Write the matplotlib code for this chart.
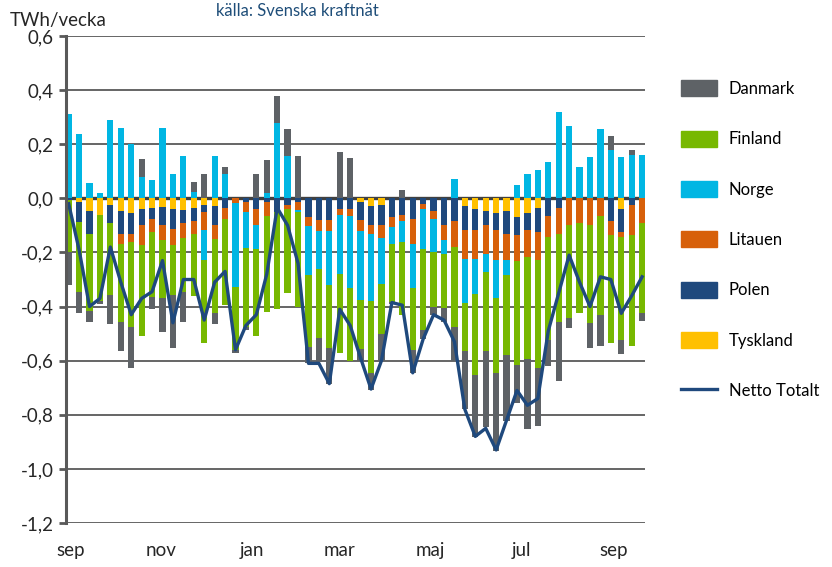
import numpy as np
import pandas as pd
import matplotlib
matplotlib.use("Agg")
import matplotlib.pyplot as plt
import matplotlib.dates as mdates
from matplotlib.patches import Patch
from matplotlib.lines import Line2D

plt.rcParams['font.family'] = ['Lato', 'DejaVu Sans']

# weekly data, TWh/vecka (positive = import, negative = export)
weeks = pd.date_range('2017-08-31', periods=56, freq='7D')

tyskland = [0, -0.013, -0.048, -0.06, -0.023, -0.048, -0.053, -0.038, -0.036, -0.032,
            -0.04, -0.044, -0.036, -0.026, -0.028, 0, 0, 0, 0, 0,
            0, 0, 0, 0, 0, 0, 0, 0, -0.015, -0.03,
            -0.026, 0, 0, 0, 0, 0, 0, 0, -0.028, -0.038,
            -0.048, -0.053, -0.048, -0.069, -0.056, -0.036, 0, 0, 0, 0,
            0, 0, 0, -0.038, 0, 0]
polen = [-0.005, -0.074, -0.082, 0, -0.07, -0.082, -0.077, -0.059, -0.041, -0.068,
         -0.072, -0.049, -0.049, -0.024, -0.072, -0.036, 0, -0.014, -0.038, -0.013,
         -0.05, -0.023, -0.013, -0.07, -0.08, -0.08, -0.039, -0.04, -0.065, -0.07,
         -0.074, -0.069, -0.063, -0.077, -0.02, -0.048, -0.097, -0.085, -0.09, -0.08,
         -0.049, -0.065, -0.082, -0.067, -0.062, -0.088, -0.065, -0.036, 0, 0,
         0, 0, -0.085, -0.086, -0.023, 0]
litauen = [0, 0, 0, 0, 0, -0.037, -0.033, -0.076, -0.047, -0.055,
           -0.059, -0.053, -0.045, -0.068, -0.051, -0.039, -0.016, -0.035, -0.062, -0.052,
           0, -0.017, -0.031, -0.034, -0.04, -0.04, -0.021, -0.027, -0.039, -0.03,
           -0.047, -0.037, -0.022, -0.09, -0.018, -0.029, -0.058, -0.094, -0.107, -0.107,
           -0.11, -0.11, -0.098, -0.096, -0.098, -0.104, -0.077, -0.094, -0.1, -0.09,
           -0.097, -0.065, -0.051, -0.018, -0.113, -0.09]
norge = [0.31, 0.238, 0.056, 0.021, 0.29, 0.26, 0.20, 0.079, 0.067, 0.26,
         0.091, 0.155, 0.023, -0.11, 0.155, 0.091, -0.31, -0.135, -0.088, 0.021,
         0.279, 0.156, -0.006, -0.181, -0.141, -0.199, -0.219, -0.265, -0.256, -0.25,
         -0.169, -0.062, -0.076, -0.166, -0.15, -0.123, -0.052, 0.072, -0.163, -0.13,
         -0.064, -0.141, -0.055, 0.048, 0.091, 0.103, 0.134, 0.32, 0.266, 0.115,
         0.152, 0.256, 0.177, 0.152, 0.161, 0.161]
finland = [-0.195, -0.258, -0.288, -0.32, -0.264, -0.291, -0.311, -0.337, -0.239, -0.215,
           -0.186, -0.199, -0.23, -0.307, -0.274, -0.319, -0.234, -0.291, -0.322, -0.355,
           -0.36, -0.31, -0.35, -0.265, -0.257, -0.236, -0.293, -0.27, -0.183, -0.265,
           -0.184, -0.216, -0.269, -0.227, -0.298, -0.2, -0.199, -0.295, -0.178, -0.297,
           -0.295, -0.276, -0.297, -0.383, -0.377, -0.399, -0.381, -0.328, -0.343, -0.335,
           -0.364, -0.365, -0.399, -0.381, -0.411, -0.335]
danmark = [-0.12, -0.08, -0.04, -0.01, -0.108, -0.108, -0.153, 0.065, -0.046, -0.124,
           -0.196, -0.113, 0.037, 0.091, -0.04, 0.024, -0.01, -0.012, 0.091, 0.119,
           0.10, 0.10, 0.158, -0.058, -0.087, -0.13, 0.171, 0.148, -0.043, -0.065,
           -0.10, -0.006, 0.029, -0.085, -0.035, -0.03, -0.05, -0.126, -0.214, -0.23,
           -0.28, -0.289, -0.243, -0.14, -0.261, -0.215, -0.097, -0.216, -0.037, 0,
           -0.092, -0.117, 0.055, -0.052, 0.016, -0.03]
netto = [-0.02, -0.19, -0.40, -0.37, -0.18, -0.31, -0.43, -0.37, -0.345, -0.23,
         -0.46, -0.30, -0.30, -0.45, -0.31, -0.27, -0.56, -0.47, -0.43, -0.28,
         -0.035, -0.10, -0.24, -0.61, -0.61, -0.685, -0.41, -0.47, -0.59, -0.705,
         -0.60, -0.385, -0.395, -0.645, -0.52, -0.43, -0.45, -0.53, -0.78, -0.88,
         -0.85, -0.93, -0.82, -0.71, -0.765, -0.74, -0.49, -0.35, -0.21, -0.31,
         -0.40, -0.29, -0.30, -0.425, -0.36, -0.29]

# stacking order (from zero outwards)
series = [('Tyskland', tyskland, '#FFC000'),
          ('Polen', polen, '#1F497D'),
          ('Litauen', litauen, '#D7600A'),
          ('Norge', norge, '#00B6E3'),
          ('Finland', finland, '#77B800'),
          ('Danmark', danmark, '#5E6266')]

month_names = {1: 'jan', 3: 'mar', 5: 'maj', 7: 'jul', 9: 'sep', 11: 'nov'}

fig = plt.figure(figsize=(8.32, 5.67), dpi=100)
ax = fig.add_axes([0.0793, 0.0776, 0.6957, 0.8589])

pos_base = np.zeros(len(weeks))
neg_base = np.zeros(len(weeks))
for name, vals, col in series:
    v = np.array(vals, dtype=float)
    pos = np.where(v > 0, v, 0)
    neg = np.where(v < 0, v, 0)
    ax.bar(weeks, pos, bottom=pos_base, width=4.2, color=col, zorder=3)
    ax.bar(weeks, neg, bottom=neg_base, width=4.2, color=col, zorder=3)
    pos_base += pos
    neg_base += neg

ax.plot(weeks, netto, color='#1F497D', lw=2.4, zorder=4)

ax.set_ylim(-1.2, 0.6)
ax.set_yticks(np.arange(-1.2, 0.61, 0.2))
ax.yaxis.set_major_formatter(plt.FuncFormatter(lambda v, p: f"{v:.1f}".replace('.', ',').replace('-0,0', '0,0')))
ax.set_xlim(weeks[0] - pd.Timedelta(days=1.8), weeks[-1] + pd.Timedelta(days=1.8))
ax.xaxis.set_major_locator(mdates.MonthLocator(bymonth=[1, 3, 5, 7, 9, 11]))
ax.xaxis.set_major_formatter(plt.FuncFormatter(lambda v, p: month_names[mdates.num2date(v).month]))

ax.grid(axis='y', color='#595959', lw=1.3, zorder=1)
ax.axhline(0, color='#404040', lw=2.4, zorder=2)
for s in ['top', 'right', 'bottom']:
    ax.spines[s].set_visible(False)
ax.spines['left'].set_color('#595959')
ax.spines['left'].set_linewidth(2.2)
ax.spines['left'].set_zorder(5)
ax.tick_params(axis='y', length=5, width=2, color='#595959', labelsize=13.5, labelcolor='#262626', pad=4)
ax.tick_params(axis='x', length=0, labelsize=13.5, labelcolor='#262626', pad=14)

fig.text(0.012, 0.955, 'TWh/vecka', fontsize=13.5, color='#262626')
fig.text(0.26, 0.972, 'källa: Svenska kraftnät', fontsize=12, color='#1F4E79')

handles = [Patch(color=col, label=name) for name, vals, col in reversed(series)]
handles.append(Line2D([], [], color='#1F497D', lw=2.4, label='Netto Totalt'))
fig.legend(handles=handles, loc='upper left', bbox_to_anchor=(0.8, 0.885),
           frameon=False, fontsize=12, handlelength=2.2, handleheight=1.1,
           labelspacing=2.02, handletextpad=0.7)

fig.savefig('out.png', dpi=100)
